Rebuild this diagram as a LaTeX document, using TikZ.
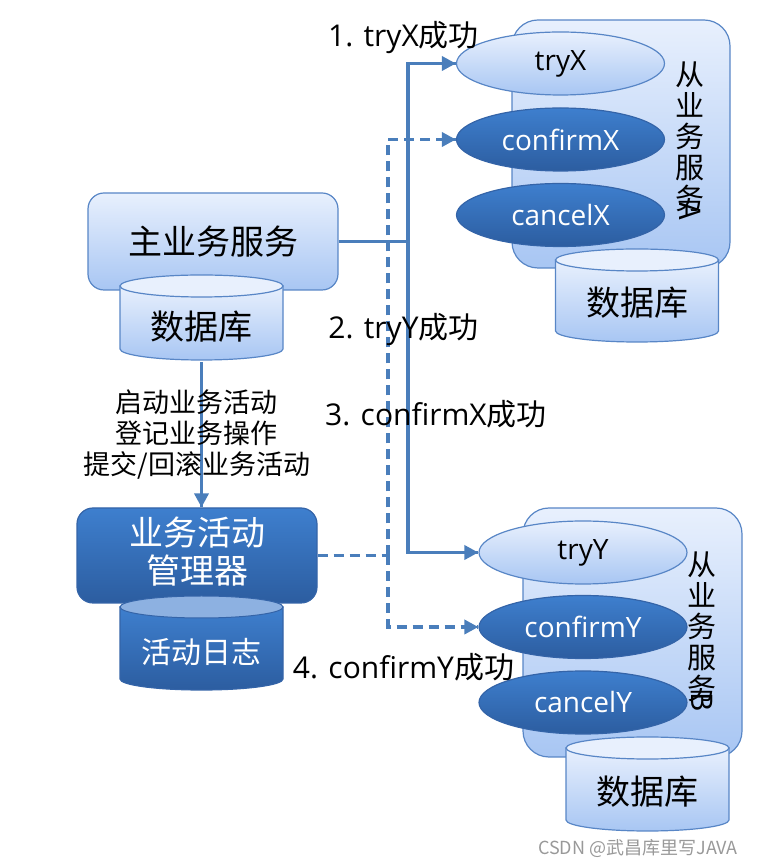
\documentclass[tikz,border=0pt]{standalone}
\usepackage{fontspec}
\setmainfont{Open Sans}
\newfontfamily\cjk{Noto Sans CJK SC}
\usetikzlibrary{shapes.geometric,decorations.markings,arrows.meta}
\definecolor{lineblue}{RGB}{74,126,187}
\definecolor{paleedge}{RGB}{88,134,198}
\definecolor{paletop}{RGB}{232,240,253}
\definecolor{palebot}{RGB}{168,198,243}
\definecolor{darktop}{RGB}{62,127,206}
\definecolor{darkbot}{RGB}{44,93,160}
\definecolor{darkedge}{RGB}{52,100,168}
\definecolor{logcap}{RGB}{141,177,225}

\begin{document}
\begin{tikzpicture}[x=1pt, y=1pt,
  lightbox/.style={draw=paleedge, line width=1.2pt, top color=paletop, bottom color=palebot},
  darkbox/.style={draw=darkedge, line width=1.2pt, top color=darktop, bottom color=darkbot, text=white},
  oval/.style={ellipse, minimum width=208pt, minimum height=63pt, inner sep=0pt,
    font=\fontsize{28}{32}\selectfont},
  drumtext/.style={minimum width=163pt, minimum height=70pt, inner sep=0pt,
    font=\cjk\fontsize{34}{38}\selectfont},
  flow/.style={draw=lineblue, line width=3.6pt},
  dashflow/.style={flow, dash pattern=on 10pt off 6pt},
  tip/.style={decoration={markings, mark=at position 1 with {\arrow[solid, lineblue]{Triangle[length=14pt, width=14pt]}}},
    postaction={decorate}},
  lbl/.style={font=\fontsize{30}{34}\selectfont},
  sidetext/.style={align=center, inner sep=0pt, anchor=north, font=\cjk\fontsize{29}{31}\selectfont}]
\useasboundingbox (0,0) rectangle (760,868);

% main service and its database
\node[lightbox, rounded corners=16pt, minimum width=250pt, minimum height=97pt,
  font=\cjk\fontsize{34}{38}\selectfont] (main) at (213,626.5) {\raisebox{3pt}{主业务服务}};
\path[lightbox] (120,582) -- (120,519) arc[start angle=180, end angle=360, x radius=81.5, y radius=11] -- (283,582) -- cycle;
\path[draw=paleedge, line width=1.2pt, fill=paletop] (201.5,582) ellipse[x radius=81.5, y radius=11];
\node[drumtext] (maindb) at (201.5,541) {数据库};

% transaction manager and its log
\node[darkbox, rounded corners=16pt, minimum width=240pt, minimum height=95pt] (mgr) at (197,312.5) {};
\path[darkbox] (120,261) -- (120,189) arc[start angle=180, end angle=360, x radius=81.5, y radius=11] -- (283,189) -- (283,261) -- cycle;
\path[fill=logcap, draw=darkedge, line width=1pt] (201.5,261) ellipse[x radius=81.5, y radius=11];
\node[align=center, text=white, font=\cjk\fontsize{34}{38}\selectfont] (mgrtext) at (197,316) {业务活动\\管理器};
\node[drumtext, text=white, font=\cjk\fontsize{30}{34}\selectfont] (log) at (201.5,216) {活动日志};

% slave service A
\node[lightbox, rounded corners=26pt, minimum width=218pt, minimum height=248pt] (svcA) at (621,724) {};
\path[lightbox] (555.5,608) -- (555.5,537) arc[start angle=180, end angle=360, x radius=81.5, y radius=11] -- (718.5,537) -- (718.5,608) -- cycle;
\path[draw=paleedge, line width=1.2pt, fill=paletop] (637,608) ellipse[x radius=81.5, y radius=11];
\node[drumtext] (dbA) at (637,565) {数据库};
\node[oval, lightbox] (tryX) at (560.5,804.5) {tryX};
\node[oval, darkbox] (confX) at (560.5,728.5) {confirmX};
\node[oval, darkbox] (cancX) at (560.5,653) {cancelX};
\node[sidetext] (nameA) at (690,806) {从\\业\\务\\服\\务\\[-38pt]\rotatebox{-90}{\fontsize{29}{31}\selectfont A}};

% slave service B
\node[lightbox, rounded corners=26pt, minimum width=219pt, minimum height=249pt] (svcB) at (632.5,235.5) {};
\path[lightbox] (566,120) -- (566,48) arc[start angle=180, end angle=360, x radius=81.5, y radius=11] -- (729,48) -- (729,120) -- cycle;
\path[draw=paleedge, line width=1.2pt, fill=paletop] (647.5,120) ellipse[x radius=81.5, y radius=11];
\node[drumtext] (dbB) at (647.5,76) {数据库};
\node[oval, lightbox] (tryY) at (583,315.5) {tryY};
\node[oval, darkbox] (confY) at (583,241) {confirmY};
\node[oval, darkbox] (cancY) at (583,165.5) {cancelY};
\node[sidetext] (nameB) at (702,316) {从\\业\\务\\服\\务\\[-38pt]\rotatebox{-90}{\fontsize{29}{31}\selectfont B}};

% connectors
\draw[flow, tip] (maindb.south) -- (maindb.south |- mgr.north);
\node[align=center, font=\cjk\fontsize{27}{31}\selectfont] (steps) at (197,433) {启动业务活动\\登记业务操作\\提交/回滚业务活动};

\coordinate (tjoin) at (408,626.5);
\draw[flow] (main.east) -- (tjoin);
\draw[flow, tip] (tjoin) |- (tryX.west);
\draw[flow, tip] (tjoin) |- (tryY.west);

\coordinate (cjoin) at (388,312.5);
\draw[dashflow] (mgr.east) -- (cjoin);
\draw[dashflow, tip] (cjoin) |- (confX.west);
\draw[dashflow, tip] (cjoin) |- (confY.west);

% step labels
\node[lbl] (l1) at (403.5,830) {1. tryX{\cjk 成功}};
\node[lbl] (l2) at (403.5,538) {2. tryY{\cjk 成功}};
\node[lbl] (l3) at (436,454) {3. confirmX{\cjk 成功}};
\node[lbl] (l4) at (403.5,201) {4. confirmY{\cjk 成功}};

\node[text=black!40, font=\cjk\fontsize{18}{20}\selectfont] (mark) at (638,20) {CSDN @武昌库里写JAVA};
\end{tikzpicture}
\end{document}
